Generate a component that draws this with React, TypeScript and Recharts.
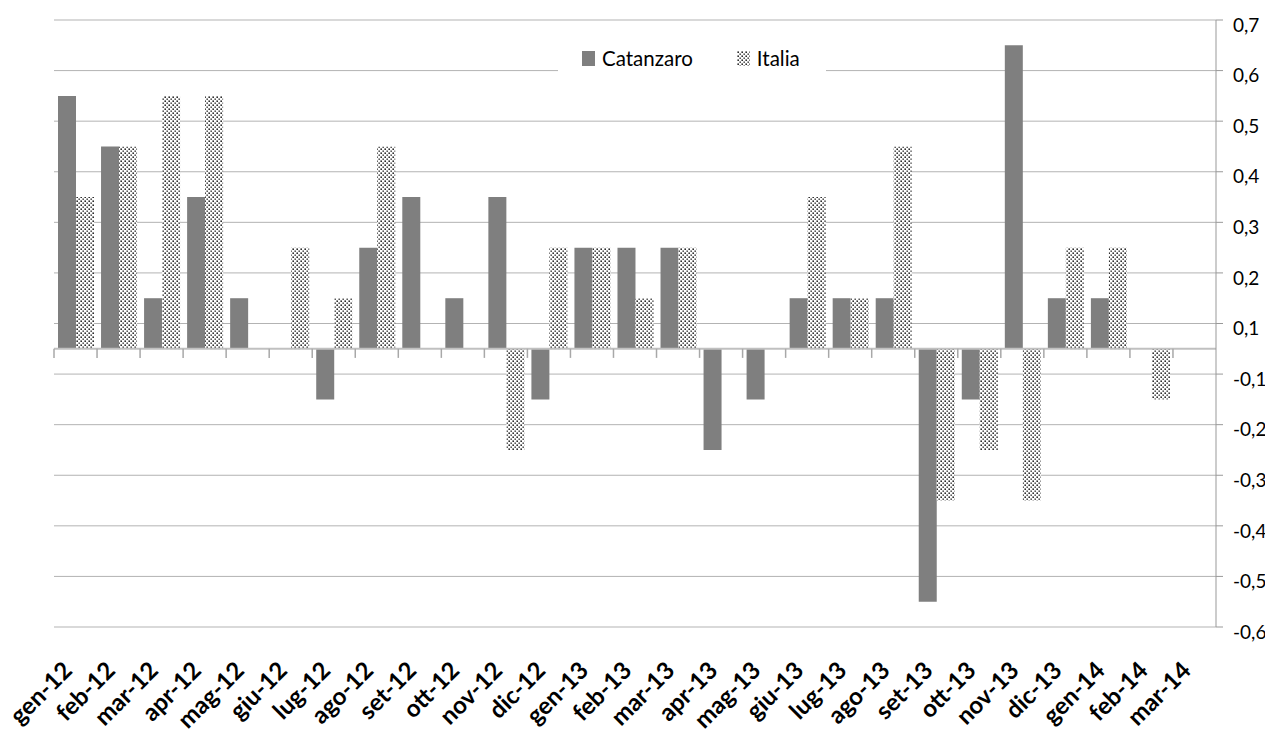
import React from 'react';
import {
  BarChart,
  Bar,
  XAxis,
  YAxis,
  CartesianGrid,
  ReferenceLine,
  Legend,
} from 'recharts';

const categories = [
  'gen-12', 'feb-12', 'mar-12', 'apr-12', 'mag-12', 'giu-12', 'lug-12', 'ago-12', 'set-12',
  'ott-12', 'nov-12', 'dic-12', 'gen-13', 'feb-13', 'mar-13', 'apr-13', 'mag-13', 'giu-13',
  'lug-13', 'ago-13', 'set-13', 'ott-13', 'nov-13', 'dic-13', 'gen-14', 'feb-14', 'mar-14',
];

const catanzaro = [
  0.5, 0.4, 0.1, 0.3, 0.1, null, -0.1, 0.2, 0.3, 0.1, 0.3, -0.1, 0.2, 0.2, 0.2, -0.2, -0.1, 0.1,
  0.1, 0.1, -0.5, -0.1, 0.6, 0.1, 0.1, null, null,
];

const italia = [
  0.3, 0.4, 0.5, 0.5, null, 0.2, 0.1, 0.4, null, null, -0.2, 0.2, 0.2, 0.1, 0.2, null, null, 0.3,
  0.1, 0.4, -0.3, -0.2, -0.3, 0.2, 0.2, -0.1, null,
];

// Excel axis: gridlines every 0.1 starting at -0.55, labels rounded to 1 decimal
const yTicks = [-0.55, -0.45, -0.35, -0.25, -0.15, -0.05, 0.05, 0.15, 0.25, 0.35, 0.45, 0.55, 0.65];
const yTickLabels = ['-0,6', '-0,5', '-0,4', '-0,3', '-0,2', '-0,1', '0,1', '0,2', '0,3', '0,4', '0,5', '0,6', '0,7'];

const data = categories.map((month, i) => ({
  month,
  catanzaro: catanzaro[i],
  italia: italia[i],
}));

const FONT = 'Lato, "Open Sans", sans-serif';
const GRID = '#b3b3b3';

const CategoryTick = (props: any) => {
  const { x, y, payload } = props;
  const tx = x - 2;
  const ty = y + 45;
  return (
    <text
      x={tx}
      y={ty}
      transform={`rotate(-45 ${tx} ${ty})`}
      textAnchor="end"
      fontFamily={FONT}
      fontWeight={700}
      fontSize={24}
      fill="#000"
    >
      {payload.value}
    </text>
  );
};

const ValueTick = (props: any) => {
  const { x, y, payload } = props;
  const idx = yTicks.indexOf(payload.value);
  return (
    <text x={x} y={y + 5} dy="0.355em" textAnchor="start" fontFamily={FONT} fontSize={19} fill="#000">
      {idx >= 0 ? yTickLabels[idx] : payload.value}
    </text>
  );
};

const dotPattern = (id: string) => (
  <pattern id={id} width={4} height={4} patternUnits="userSpaceOnUse">
    <rect width={4} height={4} fill="#fff" />
    <rect x={0.4} y={0.4} width={1.6} height={1.6} fill="#2e2e2e" />
    <rect x={2.4} y={2.4} width={1.6} height={1.6} fill="#5a5a5a" />
  </pattern>
);

const DotSwatch = () => (
  <svg width={13} height={15} style={{ display: 'block' }}>
    <defs>{dotPattern('dotsLegend')}</defs>
    <rect width={13} height={15} fill="url(#dotsLegend)" />
  </svg>
);

const LegendBox = () => (
  <div
    style={{
      display: 'flex',
      alignItems: 'center',
      background: '#fff',
      width: 268,
      height: 40,
      paddingLeft: 24,
      boxSizing: 'border-box',
      fontFamily: FONT,
      fontSize: 20.5,
      color: '#000',
    }}
  >
    <div style={{ width: 13, height: 15, background: '#7f7f7f' }} />
    <span style={{ marginLeft: 7 }}>Catanzaro</span>
    <div style={{ marginLeft: 44 }}>
      <DotSwatch />
    </div>
    <span style={{ marginLeft: 7 }}>Italia</span>
  </div>
);

export default function App() {
  return (
    <div style={{ width: 1273, height: 728, marginLeft: -8 }}>
      <BarChart
        width={1273}
        height={728}
        data={data}
        margin={{ top: 12, right: 0, bottom: 0, left: 54 }}
        barCategoryGap={4}
        barGap={0}
      >
        <defs>{dotPattern('dots')}</defs>
        <CartesianGrid horizontal vertical={false} stroke={GRID} strokeWidth={1} />
        <XAxis
          dataKey="month"
          axisLine={false}
          tickLine={false}
          tickSize={0}
          tickMargin={0}
          height={109}
          interval={0}
          tick={<CategoryTick />}
        />
        <YAxis
          orientation="right"
          domain={[-0.55, 0.65]}
          ticks={yTicks}
          interval={0}
          width={57}
          tickSize={7}
          tickMargin={10}
          axisLine={{ stroke: '#999' }}
          tickLine={{ stroke: '#999' }}
          tick={<ValueTick />}
        />
        <Legend
          layout="horizontal"
          verticalAlign="middle"
          align="center"
          content={() => <LegendBox />}
          wrapperStyle={{ top: 30, left: 558, width: 268, height: 40 }}
        />
        <Bar dataKey="catanzaro" fill="#7f7f7f" isAnimationActive={false} />
        <Bar dataKey="italia" fill="url(#dots)" isAnimationActive={false} />
        <ReferenceLine y={0} stroke="#c0c0c0" strokeWidth={2} />
        {categories.map((m) => (
          <ReferenceLine
            key={m}
            segment={[{ x: m, y: 0 }, { x: m, y: -0.018 }]}
            position="start"
            stroke="#a8a8a8"
            strokeWidth={1.5}
          />
        ))}
      </BarChart>
    </div>
  );
}
